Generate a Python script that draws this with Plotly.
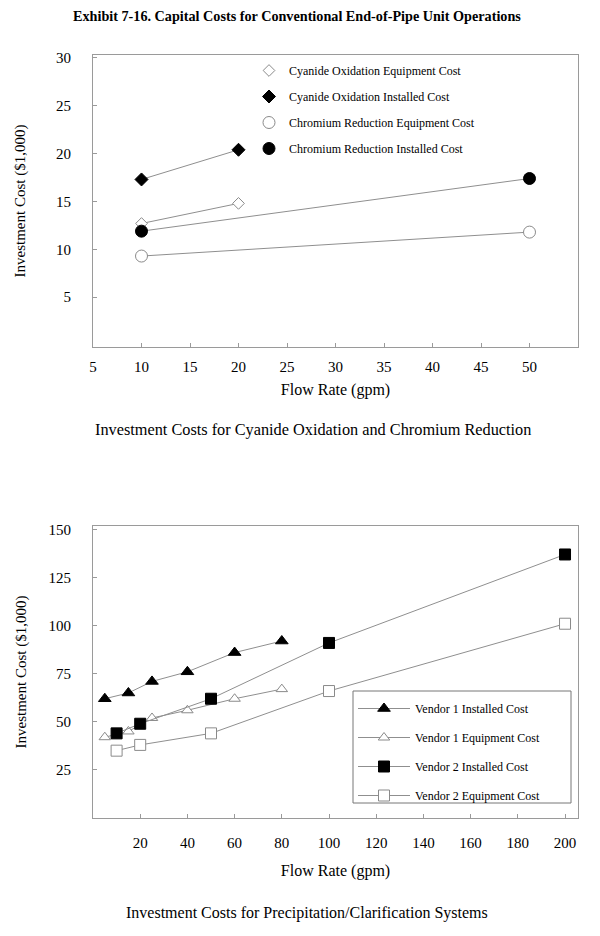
import plotly.graph_objects as go

# ---------------- data ----------------
# Top chart: Cyanide Oxidation / Chromium Reduction
cn_flow = [10, 20]
cn_equipment = [12.7, 14.8]
cn_installed = [17.3, 20.4]
cr_flow = [10, 50]
cr_equipment = [9.3, 11.8]
cr_installed = [11.9, 17.4]
top_xticks = [5, 10, 15, 20, 25, 30, 35, 40, 45, 50]
top_yticks = [5, 10, 15, 20, 25, 30]

# Bottom chart: Precipitation / Clarification
v1_flow = [5, 15, 25, 40, 60, 80]
v1_installed = [62, 65, 71, 76, 86, 92]
v1_equipment = [42, 45, 52, 56, 62, 67]
v2_flow = [10, 20, 50, 100, 200]
v2_installed = [44, 49, 62, 91, 137]
v2_equipment = [35, 38, 44, 66, 101]
bot_xticks = [20, 40, 60, 80, 100, 120, 140, 160, 180, 200]
bot_yticks = [25, 50, 75, 100, 125, 150]

FONT = "Liberation Serif"
LINE = "#8f8f8f"
OPEN = "#8a8a8a"
FRAME = "#9a9a9a"

W, H = 600, 936
def px(x):
    return x / W
def py(y):
    return 1 - y / H

fig = go.Figure()

def series(x, y, name, symbol, filled, size, xa, ya):
    mk = dict(symbol=symbol, size=size,
              color="black" if filled else "white",
              line=dict(color="black" if filled else OPEN, width=1))
    fig.add_trace(go.Scatter(x=x, y=y, mode="lines+markers", name=name,
                             line=dict(color=LINE, width=1), marker=mk,
                             xaxis=xa, yaxis=ya, showlegend=False, cliponaxis=False))
    return mk

# top chart traces
top_items = [
    (cn_flow, cn_equipment, "Cyanide Oxidation Equipment Cost", "diamond", False, 9),
    (cn_flow, cn_installed, "Cyanide Oxidation Installed Cost", "diamond", True, 10),
    (cr_flow, cr_equipment, "Chromium Reduction Equipment Cost", "circle", False, 12),
    (cr_flow, cr_installed, "Chromium Reduction Installed Cost", "circle", True, 12),
]
for i, (x, y, n, s, f, sz) in enumerate(top_items):
    mk = series(x, y, n, s, f, sz, "x", "y")
    fig.add_trace(go.Scatter(x=[None], y=[None], mode="markers", name=n, marker=mk,
                             xaxis="x", yaxis="y", legend="legend", legendgroup="t%d" % i))

bot_items = [
    (v1_flow, v1_installed, "Vendor 1 Installed Cost", "triangle-up", True, 11),
    (v1_flow, v1_equipment, "Vendor 1 Equipment Cost", "triangle-up", False, 10),
    (v2_flow, v2_installed, "Vendor 2 Installed Cost", "square", True, 11),
    (v2_flow, v2_equipment, "Vendor 2 Equipment Cost", "square", False, 11),
]
for i, (x, y, n, s, f, sz) in enumerate(bot_items):
    mk = series(x, y, n, s, f, sz, "x2", "y2")
    fig.add_trace(go.Scatter(x=[None], y=[None], mode="lines+markers", name=n, marker=mk,
                             line=dict(color=LINE, width=1),
                             xaxis="x2", yaxis="y2", legend="legend2", legendgroup="b%d" % i))

axis_common = dict(showline=True, mirror=True, linecolor=FRAME, linewidth=1,
                   showgrid=False, zeroline=False, ticks="inside", ticklen=4,
                   tickcolor=FRAME, tickfont=dict(family=FONT, size=15, color="black"),
                   automargin=False)

fig.update_layout(
    width=W, height=H,
    margin=dict(l=0, r=0, t=0, b=0),
    paper_bgcolor="white", plot_bgcolor="white",
    font=dict(family=FONT, color="black"),
    xaxis=dict(domain=[px(93), px(578)], anchor="y", range=[5, 55],
               tickvals=top_xticks, ticklabelstandoff=6,
               title=dict(text="Flow Rate (gpm)", font=dict(family=FONT, size=16), standoff=9),
               **axis_common),
    yaxis=dict(domain=[py(347), py(55)], anchor="x", range=[-0.2, 30.3],
               tickvals=top_yticks, ticklabelstandoff=18,
               title=dict(text="Investment Cost ($1,000)", font=dict(family=FONT, size=15), standoff=26),
               **axis_common),
    xaxis2=dict(domain=[px(93), px(578)], anchor="y2", range=[0, 205.5],
                tickvals=bot_xticks, ticklabelstandoff=11,
                title=dict(text="Flow Rate (gpm)", font=dict(family=FONT, size=16), standoff=14),
                **axis_common),
    yaxis2=dict(domain=[py(818), py(526)], anchor="x2", range=[0, 151.8],
                tickvals=bot_yticks, ticklabelstandoff=18,
                title=dict(text="Investment Cost ($1,000)", font=dict(family=FONT, size=15), standoff=18),
                **axis_common),
    legend=dict(x=px(249), y=py(56), xanchor="left", yanchor="top",
                bgcolor="rgba(0,0,0,0)", borderwidth=0, traceorder="grouped",
                tracegroupgap=7, itemwidth=30, font=dict(family=FONT, size=12)),
    legend2=dict(x=px(353), y=py(694), xanchor="left", yanchor="top",
                 bgcolor="rgba(0,0,0,0)", borderwidth=0, traceorder="grouped",
                 tracegroupgap=10, itemwidth=52, font=dict(family=FONT, size=12)),
    shapes=[dict(type="rect", xref="paper", yref="paper",
                 x0=px(353), x1=px(571), y0=py(803), y1=py(691),
                 line=dict(color="#777777", width=1), fillcolor="rgba(0,0,0,0)")],
    annotations=[
        dict(text="<b>Exhibit 7-16. Capital Costs for Conventional End-of-Pipe Unit Operations</b>",
             x=px(297), y=py(16), xref="paper", yref="paper", showarrow=False,
             font=dict(family=FONT, size=14.2, color="black"), xanchor="center", yanchor="middle"),
        dict(text="Investment Costs for Cyanide Oxidation and Chromium Reduction",
             x=px(313), y=py(430), xref="paper", yref="paper", showarrow=False,
             font=dict(family=FONT, size=16.3, color="black"), xanchor="center", yanchor="middle"),
        dict(text="Investment Costs for Precipitation/Clarification Systems",
             x=px(307), y=py(913), xref="paper", yref="paper", showarrow=False,
             font=dict(family=FONT, size=16, color="black"), xanchor="center", yanchor="middle"),
    ],
)

fig.write_html("out.html", config={"displayModeBar": False},
               post_script="document.body.style.margin='0';")
